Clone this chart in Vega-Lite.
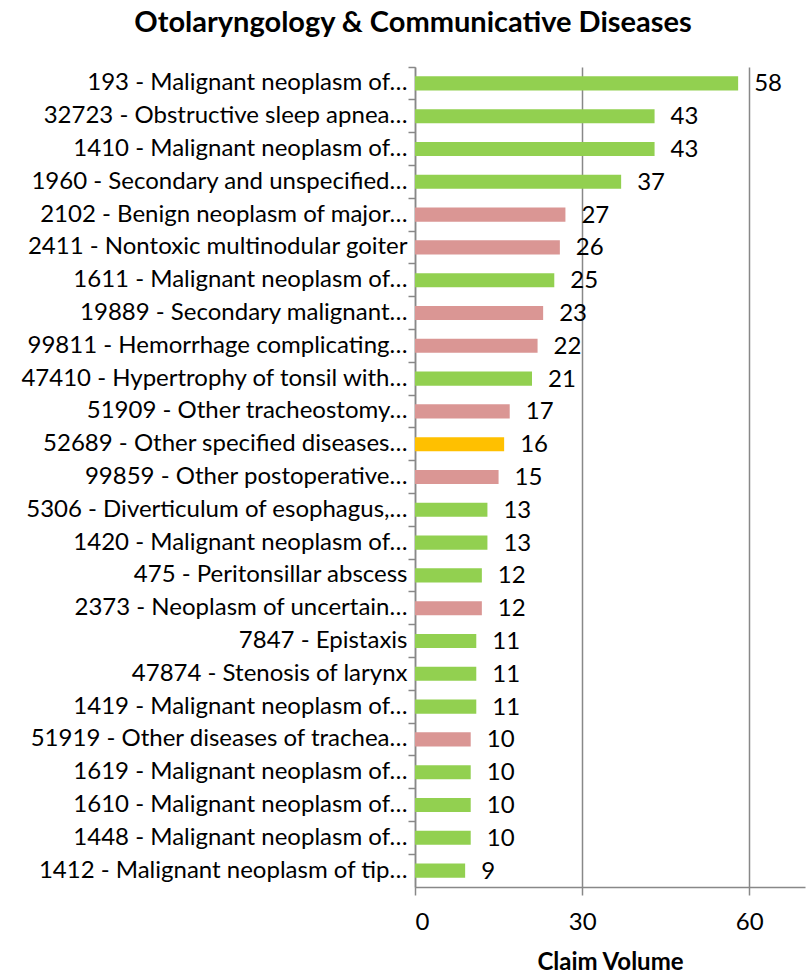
{
  "$schema": "https://vega.github.io/schema/vega-lite/v6.json",
  "autosize": {"type": "none"},
  "padding": {"left": 415, "top": 67, "right": 2, "bottom": 88},
  "width": 390,
  "height": 820,
  "background": "white",
  "config": {
    "view": {"stroke": null},
    "font": "Lato",
    "text": {"font": "Lato"}
  },
  "title": {
    "text": "Otolaryngology & Communicative Diseases",
    "font": "Lato",
    "fontSize": 29,
    "fontWeight": "bold",
    "color": "black",
    "anchor": "middle",
    "frame": "group",
    "dx": -197,
    "offset": 28
  },
  "data": {
    "values": [
      {"label": "193 - Malignant neoplasm of…", "volume": 58, "group": "Group A"},
      {"label": "32723 - Obstructive sleep apnea…", "volume": 43, "group": "Group A"},
      {"label": "1410 - Malignant neoplasm of…", "volume": 43, "group": "Group A"},
      {"label": "1960 - Secondary and unspecified…", "volume": 37, "group": "Group A"},
      {"label": "2102 - Benign neoplasm of major…", "volume": 27, "group": "Group B"},
      {"label": "2411 - Nontoxic multinodular goiter", "volume": 26, "group": "Group B"},
      {"label": "1611 - Malignant neoplasm of…", "volume": 25, "group": "Group A"},
      {"label": "19889 - Secondary malignant…", "volume": 23, "group": "Group B"},
      {"label": "99811 - Hemorrhage complicating…", "volume": 22, "group": "Group B"},
      {"label": "47410 - Hypertrophy of tonsil with…", "volume": 21, "group": "Group A"},
      {"label": "51909 - Other tracheostomy…", "volume": 17, "group": "Group B"},
      {"label": "52689 - Other specified diseases…", "volume": 16, "group": "Group C"},
      {"label": "99859 - Other postoperative…", "volume": 15, "group": "Group B"},
      {"label": "5306 - Diverticulum of esophagus,…", "volume": 13, "group": "Group A"},
      {"label": "1420 - Malignant neoplasm of…", "volume": 13, "group": "Group A"},
      {"label": "475 - Peritonsillar abscess", "volume": 12, "group": "Group A"},
      {"label": "2373 - Neoplasm of uncertain…", "volume": 12, "group": "Group B"},
      {"label": "7847 - Epistaxis", "volume": 11, "group": "Group A"},
      {"label": "47874 - Stenosis of larynx", "volume": 11, "group": "Group A"},
      {"label": "1419 - Malignant neoplasm of…", "volume": 11, "group": "Group A"},
      {"label": "51919 - Other diseases of trachea…", "volume": 10, "group": "Group B"},
      {"label": "1619 - Malignant neoplasm of…", "volume": 10, "group": "Group A"},
      {"label": "1610 - Malignant neoplasm of…", "volume": 10, "group": "Group A"},
      {"label": "1448 - Malignant neoplasm of…", "volume": 10, "group": "Group A"},
      {"label": "1412 - Malignant neoplasm of tip…", "volume": 9, "group": "Group A"}
    ]
  },
  "encoding": {
    "y": {
      "field": "label",
      "type": "nominal",
      "sort": null,
      "scale": {"paddingInner": 0, "paddingOuter": 0},
      "axis": {
        "title": null,
        "bandPosition": 0,
        "domainColor": "#888888",
        "domainWidth": 1.5,
        "tickColor": "#888888",
        "tickWidth": 1.5,
        "tickSize": 7,
        "labelPadding": 1,
        "labelFont": "Lato",
        "labelFontSize": 24,
        "labelColor": "black",
        "labelLimit": 420,
        "grid": false
      }
    },
    "x": {
      "field": "volume",
      "type": "quantitative",
      "scale": {"domain": [0, 70], "nice": false},
      "axis": {
        "title": "Claim Volume",
        "titleFont": "Lato",
        "titleFontSize": 24,
        "titleFontWeight": "bold",
        "titleColor": "black",
        "titlePadding": 16,
        "values": [0, 30, 60],
        "domainColor": "#888888",
        "domainWidth": 1.5,
        "tickColor": "#888888",
        "tickWidth": 1.5,
        "tickSize": 8,
        "labelPadding": 15,
        "labelFont": "Lato",
        "labelFontSize": 24,
        "labelColor": "black",
        "grid": true,
        "gridColor": "#888888",
        "gridWidth": 1.5
      }
    }
  },
  "layer": [
    {
      "mark": {"type": "bar", "height": {"band": 0.43}},
      "encoding": {
        "color": {
          "field": "group",
          "type": "nominal",
          "scale": {"domain": ["Group A", "Group B", "Group C"], "range": ["#92D050", "#DA9694", "#FFC000"]},
          "legend": null
        }
      }
    },
    {
      "mark": {"type": "text", "align": "left", "baseline": "middle", "dx": 16, "dy": 1, "fontSize": 24, "font": "Lato", "color": "black"},
      "encoding": {
        "text": {"field": "volume", "type": "quantitative"}
      }
    }
  ]
}
